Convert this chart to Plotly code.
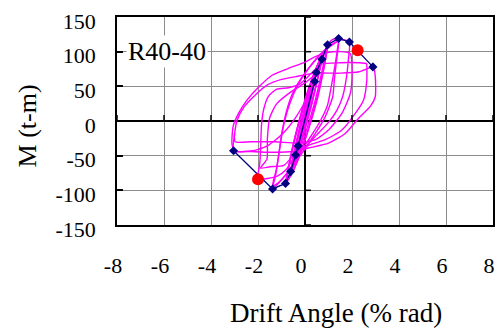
import plotly.graph_objects as go

# ---------------- data ----------------
x_ticks = [-8, -6, -4, -2, 0, 2, 4, 6, 8]
y_ticks = [-150, -100, -50, 0, 50, 100, 150]

# envelope (skeleton) points
skel_x = [-3.04, -1.38, -0.83, -0.61, -0.40, -0.29, 0.41, 0.48, 0.72, 0.96, 1.43, 1.89, 2.89]
skel_y = [-43, -98, -90, -73, -49, -36, 57, 70, 89, 110, 119, 114, 78]

# marked points
red_x = [2.24, -2.0]
red_y = [102, -84]

# hysteresis cycles
c1_x = [0, 0.15, 0.30, 0.41, 0.33, 0.18, 0.02, -0.15, -0.29, -0.22, -0.10, 0.05, 0.22, 0.41]
c1_y = [0, 22, 42, 57, 44, 22, 0, -20, -36, -24, -8, 10, 32, 55]

c2_x = [0.41, 0.48, 0.38, 0.22, 0.05, -0.15, -0.30, -0.40, -0.32, -0.18, -0.02, 0.18, 0.35, 0.48]
c2_y = [55, 70, 52, 28, 4, -20, -36, -49, -36, -16, 6, 32, 52, 68]

c2b_x = [0.48, 0.40, 0.26, 0.10, -0.08, -0.25, -0.38, -0.30, -0.20, -0.06, 0.12, 0.30, 0.46]
c2b_y = [68, 56, 34, 12, -10, -30, -46, -40, -26, -6, 18, 42, 64]

c3_x = [0.48, 0.60, 0.72, 0.60, 0.42, 0.22, 0.00, -0.25, -0.45, -0.61, -0.52, -0.36, -0.15, 0.10, 0.35, 0.55, 0.72]
c3_y = [68, 80, 89, 70, 44, 16, -12, -38, -58, -73, -54, -28, 2, 32, 58, 76, 88]

c3b_x = [0.72, 0.63, 0.48, 0.30, 0.08, -0.16, -0.38, -0.58, -0.50, -0.40, -0.24, 0.00, 0.26, 0.50, 0.70]
c3b_y = [88, 74, 52, 26, -2, -30, -54, -70, -58, -40, -16, 14, 44, 70, 86]

c3c_x = [0.70, 0.58, 0.40, 0.18, -0.05, -0.28, -0.48, -0.62, -0.55, -0.44, -0.28, -0.05, 0.20, 0.45, 0.68]
c3c_y = [86, 68, 42, 14, -16, -44, -64, -76, -62, -44, -20, 8, 38, 64, 84]

c4_x = [0.72, 0.85, 0.96, 0.84, 0.66, 0.45, 0.20, -0.10, -0.40, -0.65, -0.83, -0.72, -0.55, -0.33, -0.08, 0.22, 0.52, 0.78, 0.96]
c4_y = [88, 100, 110, 90, 62, 32, 2, -30, -58, -78, -90, -70, -42, -10, 22, 54, 80, 98, 108]

c4b_x = [0.96, 0.86, 0.70, 0.50, 0.26, -0.02, -0.32, -0.60, -0.80, -0.70, -0.52, -0.28, 0.00, 0.30, 0.60, 0.85, 0.98]
c4b_y = [108, 86, 58, 28, 0, -30, -58, -78, -88, -66, -36, -4, 28, 60, 86, 102, 110]

c4c_x = [0.98, 0.90, 0.76, 0.56, 0.34, 0.08, -0.22, -0.50, -0.74, -0.82, -0.74, -0.60, -0.40, -0.14, 0.14, 0.44, 0.74, 0.96]
c4c_y = [110, 94, 70, 40, 12, -18, -48, -72, -86, -90, -76, -52, -22, 10, 42, 72, 96, 108]

c5_x = [0.96, 1.15, 1.43, 1.35, 1.25, 1.18, 0.86, 0.44, 0.00, -0.50, -1.00, -1.38, -1.25, -1.12, -1.00, -0.82, -0.55, -0.15, 0.35, 0.85, 1.43]
c5_y = [110, 117, 119, 90, 60, 35, 6, -18, -40, -64, -85, -98, -78, -50, -20, 10, 38, 62, 84, 102, 116]

c5b_x = [1.43, 1.30, 1.12, 0.95, 0.65, 0.25, -0.20, -0.70, -1.10, -1.38, -1.22, -1.08, -0.92, -0.65, -0.30, 0.20, 0.70, 1.20, 1.50]
c5b_y = [116, 85, 50, 22, 0, -22, -45, -72, -88, -94, -70, -40, -8, 25, 52, 78, 98, 112, 117]

c6_x = [1.50, 1.70, 1.89, 1.85, 1.75, 1.60, 1.35, 1.00, 0.50, 0.00, -0.40, -0.80, -1.20, -1.60, -2.00,
        -1.92, -1.88, -1.85, -1.75, -1.55, -1.20, -0.70, -0.20, 0.30, 0.70, 1.50, 2.30, 2.63]
c6_y = [117, 117, 114, 90, 60, 35, 15, -2, -20, -38, -50, -70, -80, -83, -84,
        -60, -30, -5, 18, 36, 46, 48, 54, 70, 82, 84, 84, 83]

c7_x = [2.63, 2.63, 2.49, 2.14, 1.57, 0.86, 0.15, -0.50, -0.90, -1.50, -1.90, -1.62, -1.60, -1.50, -1.20, -0.60, 0.00,
        0.44, 0.20, -0.40, -1.00, -1.60, -2.10, -2.60, -2.95, -3.04]
c7_y = [83, 59, 30, 11, -13, -27, -35, -50, -64, -66, -68, -55, -25, 5, 25, 42, 55,
        66, 40, 5, -20, -36, -42, -44, -44, -43]

c8_x = [-3.04, -3.00, -2.90, -2.60, -2.10, -1.60, -1.00, -0.40, 0.44, 1.50, 2.30, 2.91,
        2.99, 2.99, 2.78, 2.28, 1.71, 1.00, 0.15, -0.50, -1.50, -2.30, -3.04]
c8_y = [-43, -20, 0, 20, 38, 52, 60, 64, 69, 69, 71, 78,
        64, 35, 21, 4, -18, -32, -39, -44, -45, -44, -43]

c9_x = [-3.04, -3.11, -3.06, -2.83, -2.47, -1.97, -1.40, -0.70, 0.01, 0.44, 1.00, 1.50, 1.93,
        2.00, 1.93, 1.57, 1.00, 0.44, -0.30, -1.27, -2.30, -2.97, -3.00]
c9_y = [-43, -32, -8, 11, 30, 49, 66, 76, 85, 93, 99, 100, 97,
        69, 40, 11, -13, -27, -32, -30, -30, -30, -18]

cycles = [(c1_x, c1_y), (c2_x, c2_y), (c2b_x, c2b_y), (c3_x, c3_y), (c3b_x, c3b_y), (c3c_x, c3c_y),
          (c4_x, c4_y), (c4b_x, c4b_y), (c4c_x, c4c_y), (c5_x, c5_y), (c5b_x, c5b_y),
          (c6_x, c6_y), (c7_x, c7_y), (c8_x, c8_y), (c9_x, c9_y)]

FONT = "Liberation Serif"

fig = go.Figure()
for cx, cy in cycles:
    fig.add_trace(go.Scatter(x=cx, y=cy, mode="lines",
                             line=dict(color="#FF00FF", width=1.4, shape="spline", smoothing=0.6),
                             hoverinfo="skip", showlegend=False))

fig.add_trace(go.Scatter(x=skel_x, y=skel_y, mode="lines+markers",
                         line=dict(color="#000080", width=1.3),
                         marker=dict(symbol="diamond", size=7, color="#000080"),
                         showlegend=False))
fig.add_trace(go.Scatter(x=red_x, y=red_y, mode="markers",
                         marker=dict(symbol="circle", size=12, color="#FF0000"),
                         showlegend=False))

# small ticks along the zero lines
shapes = []
for v in x_ticks:
    if v != 0:
        shapes.append(dict(type="line", xref="x", yref="y", ysizemode="pixel", yanchor=0,
                           x0=v, x1=v, y0=0, y1=6, line=dict(color="black", width=1.5)))
for v in y_ticks:
    if v != 0:
        shapes.append(dict(type="line", yref="y", xref="x", xsizemode="pixel", xanchor=0,
                           y0=v, y1=v, x0=0, x1=6, line=dict(color="black", width=1.5)))

# the page body has an 8px margin, so the figure is sized to fit the window
fig.update_layout(
    width=495, height=321,
    margin=dict(l=109, r=10, t=9, b=104, autoexpand=False),
    plot_bgcolor="white", paper_bgcolor="white",
    shapes=shapes,
    showlegend=False,
    annotations=[
        dict(text="R40-40", x=-7.6, y=100, xref="x", yref="y", xanchor="left", yanchor="middle",
             showarrow=False, bgcolor="white", font=dict(family=FONT, size=26, color="black")),
        dict(text="Drift Angle (% rad)", x=0.5, y=0, xref="paper", yref="paper",
             xanchor="center", yanchor="middle", xshift=31, yshift=-88, showarrow=False,
             font=dict(family=FONT, size=27, color="black")),
        dict(text="M (t-m)", x=0, y=0.474, xref="paper", yref="paper", textangle=-90,
             xanchor="center", yanchor="middle", xshift=-90, showarrow=False,
             font=dict(family=FONT, size=26, color="black")),
    ],
)
fig.update_xaxes(range=[-8, 8], tickvals=x_ticks, ticktext=[str(v) for v in x_ticks],
                 automargin=False,
                 showgrid=True, gridcolor="#8c8c8c", gridwidth=1,
                 zeroline=True, zerolinecolor="black", zerolinewidth=2,
                 showline=True, linecolor="black", linewidth=1.5, mirror=True,
                 ticks="", ticklabelstandoff=20, ticklabelshift=-4, ticklabeloverflow="allow",
                 tickfont=dict(family=FONT, size=22, color="black"))
fig.update_yaxes(range=[-150, 150], tickvals=y_ticks, ticktext=[str(v) for v in y_ticks],
                 automargin=False,
                 showgrid=True, gridcolor="#8c8c8c", gridwidth=1,
                 zeroline=True, zerolinecolor="black", zerolinewidth=2,
                 showline=True, linecolor="black", linewidth=1.5, mirror=True,
                 ticks="inside", ticklen=6, tickcolor="black", tickwidth=1.5,
                 ticklabelstandoff=15, ticklabelshift=4, ticklabeloverflow="allow",
                 tickfont=dict(family=FONT, size=22, color="black"))

fig.write_html("out.html")
